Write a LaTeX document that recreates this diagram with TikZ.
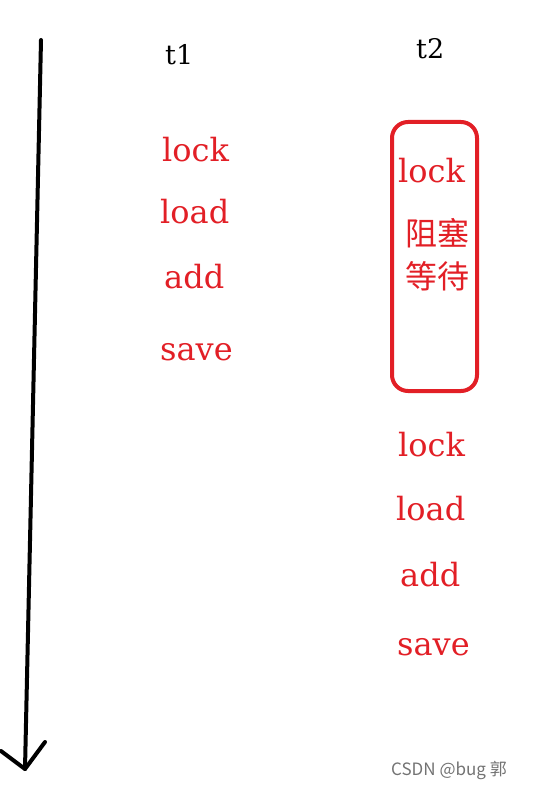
\documentclass[tikz,border=0pt]{standalone}
\usepackage{fontspec}
\usepackage{tikz}
\usetikzlibrary{positioning}
\newfontfamily\cjk{Noto Sans CJK SC}
\newfontfamily\opfont{DejaVu Serif}
\definecolor{lockred}{RGB}{226,31,38}

\begin{document}
\begin{tikzpicture}[x=1pt,y=-1pt,
	thread/.style={anchor=base west,inner sep=0pt,font=\opfont\fontsize{27}{30}\selectfont},
	op/.style={anchor=base west,inner sep=0pt,text=lockred,font=\opfont\fontsize{32}{36}\selectfont},
	wait/.style={anchor=base west,inner sep=0pt,text=lockred,font=\cjk\fontsize{32}{34}\selectfont},
	timeline/.style={line width=4pt,line cap=round,line join=round}]
	\useasboundingbox (0,0) rectangle (534,786);
	
	\node[thread] (t1) at (165,65) {t1};
	\node[thread] (t2) at (416,59) {t2};
	
	\node[op] (lock1) at (162,162) {lock};
	\node[op] (load1) at (160,223) {load};
	\node[op] (add1)  at (164,288) {add};
	\node[op] (save1) at (160,360) {save};
	
	\node[op] (try2) at (398,183) {lock};
	\node[wait] (block) at (405,245) {阻塞};
	\node[wait] (waiting) at (405,288) {等待};
	\draw[lockred,line width=4pt,rounded corners=16pt] (392,122) rectangle (477,391);
	
	\node[op] (lock2) at (398,456) {lock};
	\node[op] (load2) at (396,520) {load};
	\node[op] (add2)  at (400,586) {add};
	\node[op] (save2) at (397,655) {save};
	
	\coordinate (start) at (41,40);
	\coordinate (tip) at (25,769);
	\coordinate (barbl) at (1,751);
	\coordinate (barbr) at (45,742);
	\draw[timeline] (start) -- (tip);
	\draw[timeline] (barbl) -- (tip) -- (barbr);
	
	\node[anchor=base east,inner sep=0pt,text=black!55,font=\cjk\fontsize{17}{20}\selectfont] (mark) at (507,775) {CSDN @bug 郭};
\end{tikzpicture}
\end{document}
